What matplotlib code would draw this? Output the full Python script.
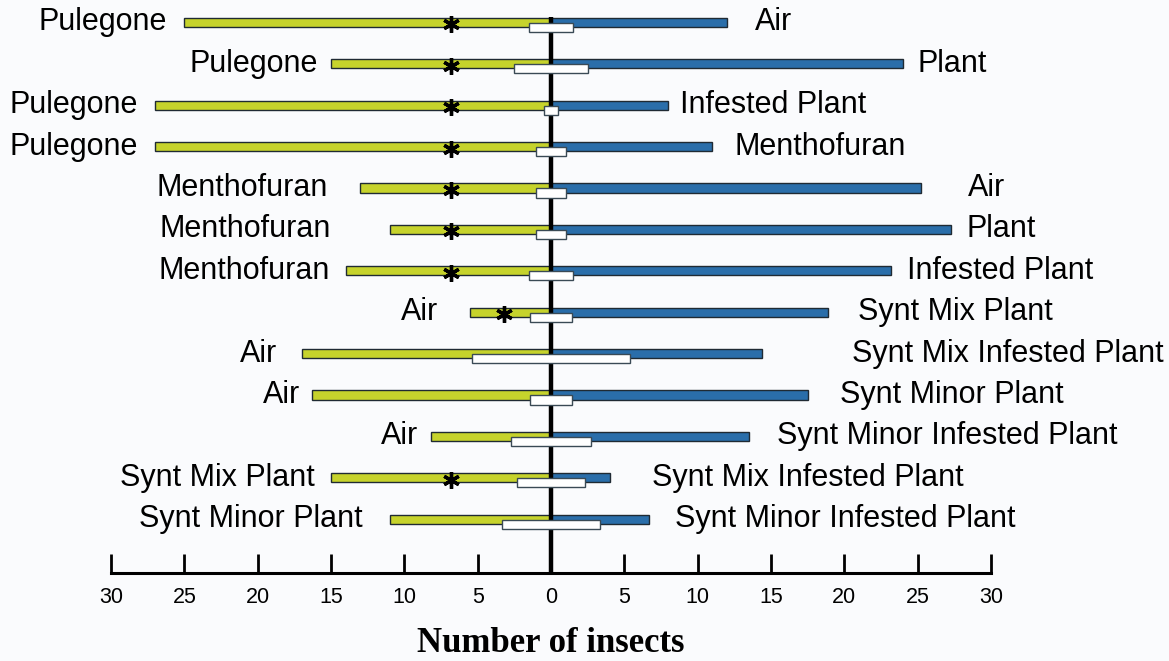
import matplotlib
matplotlib.use("Agg")
import matplotlib.pyplot as plt
from matplotlib.transforms import offset_copy

# ---- data ----
left_labels = ["Pulegone", "Pulegone", "Pulegone", "Pulegone",
               "Menthofuran", "Menthofuran", "Menthofuran",
               "Air", "Air", "Air", "Air",
               "Synt Mix Plant", "Synt Minor Plant"]
right_labels = ["Air", "Plant", "Infested Plant", "Menthofuran",
                "Air", "Plant", "Infested Plant",
                "Synt Mix Plant", "Synt Mix Infested Plant", "Synt Minor Plant",
                "Synt Minor Infested Plant", "Synt Mix Infested Plant",
                "Synt Minor Infested Plant"]
left_values = [25, 15, 27, 27, 13, 11, 14, 5.5, 17, 16.3, 8.2, 15, 11]
right_values = [12, 24, 8, 11, 25.2, 27.3, 23.2, 18.9, 14.4, 17.5, 13.5, 4, 6.7]
no_choice = [3, 5, 1, 2, 2, 2, 3, 2.8, 10.8, 2.8, 5.4, 4.7, 6.7]
asterisk_x = [-6.8, -6.8, -6.8, -6.8, -6.8, -6.8, -6.8, -3.2, None, None, None, -6.8, None]
tick_values = [-30, -25, -20, -15, -10, -5, 0, 5, 10, 15, 20, 25, 30]
tick_labels = ["30", "25", "20", "15", "10", "5", "0", "5", "10", "15", "20", "25", "30"]
xlabel = "Number of insects"

# ---- layout (label gaps in pixels) ----
left_gap_px = [17, 13, 17, 17, 32, 59, 16, 32, 24, 12, 13, 16, 27]
right_gap_px = [28, 14, 12, 22, 47, 15, 16, 30, 90, 32, 28, 42, 26]

GREEN = "#c6d32c"
BLUE = "#2a6eaa"
EDGE = "#1f2a33"
BG = "#fafbfd"

plt.rcParams["font.family"] = ["Liberation Sans", "DejaVu Sans"]

fig = plt.figure(figsize=(11.69, 6.61), dpi=100, facecolor=BG)
ax = fig.add_axes([111 / 1169, (661 - 573) / 661, 880 / 1169, (573 - 10) / 661])
ax.set_facecolor(BG)

n = len(left_labels)
rows = list(range(n))
bar_h = 0.22

ax.set_xlim(-30, 30)
ax.set_ylim(13.3, -0.3)

# central line
ax.plot([0, 0], [-0.12, 13.3], color="black", lw=3.2, zorder=4, solid_capstyle="butt")

ax.barh(rows, [-v for v in left_values], height=bar_h, color=GREEN,
        edgecolor=EDGE, linewidth=1.0, zorder=3)
ax.barh(rows, right_values, height=bar_h, color=BLUE,
        edgecolor=EDGE, linewidth=1.0, zorder=3)
ax.barh([r + 0.12 for r in rows], no_choice, left=[-w / 2 for w in no_choice],
        height=bar_h, color="white", edgecolor="#3a4a55", linewidth=1.0, zorder=5)

for r, ax_x in zip(rows, asterisk_x):
    if ax_x is not None:
        ax.plot(ax_x, r + 0.05, marker=(6, 2, 0), markersize=12, color="black",
                markeredgewidth=2.4, zorder=6)

for r, lab, v, g in zip(rows, left_labels, left_values, left_gap_px):
    tr = offset_copy(ax.transData, fig=fig, x=-g * 0.72, y=0, units="points")
    ax.text(-v, r, lab, transform=tr, ha="right", va="center", fontsize=22,
            color="black", zorder=7)
for r, lab, v, g in zip(rows, right_labels, right_values, right_gap_px):
    tr = offset_copy(ax.transData, fig=fig, x=g * 0.72, y=0, units="points")
    ax.text(v, r, lab, transform=tr, ha="left", va="center", fontsize=22,
            color="black", zorder=7)

# bottom axis
for s in ["top", "left", "right"]:
    ax.spines[s].set_visible(False)
ax.spines["bottom"].set_linewidth(2.2)
ax.spines["bottom"].set_bounds(-30, 30)
ax.set_yticks([])
ax.set_xticks(tick_values)
ax.set_xticklabels(tick_labels, fontsize=15.5)
ax.tick_params(axis="x", direction="in", length=14, width=2.0, pad=10, colors="black")
ax.set_xlabel(xlabel, fontsize=25, fontweight="bold", family="Liberation Serif",
              labelpad=14)

fig.savefig("out.png", dpi=100, facecolor=BG)
